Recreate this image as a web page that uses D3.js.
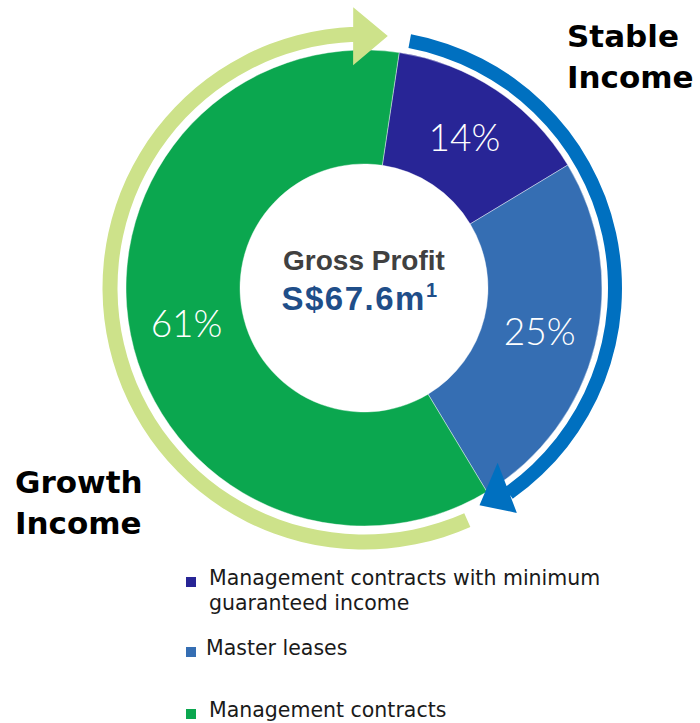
<!DOCTYPE html>
<html>
<head>
<meta charset="utf-8">
<script src="https://cdn.jsdelivr.net/npm/d3@7"></script>
<style>
  body { margin: 0; background: #fff; }
  svg { display: block; }
</style>
</head>
<body>
<svg id="chart"></svg>
<script>
// data
const categories = ["Management contracts with minimum guaranteed income", "Master leases", "Management contracts"];
const shares = [14, 25, 61];
const sliceColors = ["#282596", "#356EB3", "#0BA74F"];
const legendLines = [["Management contracts with minimum", "guaranteed income"], ["Master leases"], ["Management contracts"]];
const centreTitle = "Gross Profit";
const centreValue = "S$67.6m";
const centreNote = "1";
const stableTitle = ["Stable", "Income"];
const growthTitle = ["Growth", "Income"];

const width = 700, height = 723;
const svg = d3.select("#chart").attr("width", width).attr("height", height);

const cx = 364, cy = 288;
const rOuter = 238, rInner = 124;
const deg = Math.PI / 180;

const g = svg.append("g").attr("transform", `translate(${cx},${cy})`);

const pie = d3.pie()
    .sort(null)
    .value(d => d)
    .startAngle(8.5 * deg)
    .endAngle(368.5 * deg);

const arc = d3.arc().innerRadius(rInner).outerRadius(rOuter);
const arcs = pie(shares);

g.selectAll("path.slice")
  .data(arcs)
  .enter().append("path")
    .attr("class", "slice")
    .attr("d", arc)
    .attr("fill", (d, i) => sliceColors[i])
    .attr("stroke", "#fff")
    .attr("stroke-width", 0.4);

g.selectAll("text.pct")
  .data(arcs)
  .enter().append("text")
    .attr("class", "pct")
    .attr("transform", d => `translate(${arc.centroid(d)})`)
    .attr("text-anchor", "middle")
    .attr("dy", "0.36em")
    .attr("font-family", "Lato, 'Liberation Sans', sans-serif")
    .attr("font-weight", 300)
    .attr("font-size", 37)
    .attr("fill", "#fff")
    .text(d => d.data + "%");

// arrows round the donut
function polar(p) { return [p[0] * Math.sin(p[1] * deg), -p[0] * Math.cos(p[1] * deg)]; }

// band from a0 to a1 (degrees, clockwise from 12 o'clock), head given as [radius, angle] points
function arrowPath(r, w, a0, a1, head) {
  const band = d3.arc()({innerRadius: r - w / 2, outerRadius: r + w / 2,
                         startAngle: a0 * deg, endAngle: a1 * deg});
  const pts = head.map(polar);
  return band + "M" + pts.join("L") + "Z";
}

g.append("path")
  .attr("d", arrowPath(254, 15, 156, 357.8, [[223, -2.8], [281, -2.2], [253, 5.4]]))
  .attr("fill", "#CDE28A");

g.append("path")
  .attr("d", arrowPath(251, 14, 10.5, 144.8, [[220, 142.6], [272, 145.8], [246, 152]]))
  .attr("fill", "#0070C0");

// centre text
g.append("text")
  .attr("x", 0).attr("y", -18)
  .attr("text-anchor", "middle")
  .attr("font-family", "'Liberation Sans', Arial, sans-serif")
  .attr("font-weight", "bold")
  .attr("font-size", 28)
  .attr("fill", "#404040")
  .text(centreTitle);

const val = g.append("text")
  .attr("x", -4).attr("y", 22)
  .attr("text-anchor", "middle")
  .attr("font-family", "'Liberation Sans', Arial, sans-serif")
  .attr("font-weight", "bold")
  .attr("font-size", 33)
  .attr("letter-spacing", 1.5)
  .attr("fill", "#1F4E89");
val.append("tspan").text(centreValue);
val.append("tspan").attr("dy", -13).attr("font-size", 20).text(centreNote);

// group titles
function title(lines, x, y) {
  svg.append("text")
    .attr("font-family", "'DejaVu Sans', sans-serif")
    .attr("font-weight", "bold")
    .attr("font-size", 31)
    .attr("fill", "#000")
    .selectAll("tspan")
    .data(lines)
    .enter().append("tspan")
      .attr("x", x)
      .attr("y", (d, i) => y + i * 41)
      .text(d => d);
}
title(stableTitle, 567, 47);
title(growthTitle, 15, 493);

// legend
const legendY = [585, 655, 717];
const legend = svg.append("g");
legendLines.forEach((lines, i) => {
  legend.append("rect")
    .attr("x", 186).attr("y", legendY[i] - 8)
    .attr("width", 10).attr("height", 10)
    .attr("fill", sliceColors[i]);
  legend.append("text")
    .attr("font-family", "'DejaVu Sans', sans-serif")
    .attr("font-size", 20.5)
    .attr("fill", "#1a1a1a")
    .selectAll("tspan")
    .data(lines)
    .enter().append("tspan")
      .attr("x", i === 1 ? 206 : 209)
      .attr("y", (d, j) => legendY[i] + j * 25)
      .text(d => d);
});
</script>
</body>
</html>
